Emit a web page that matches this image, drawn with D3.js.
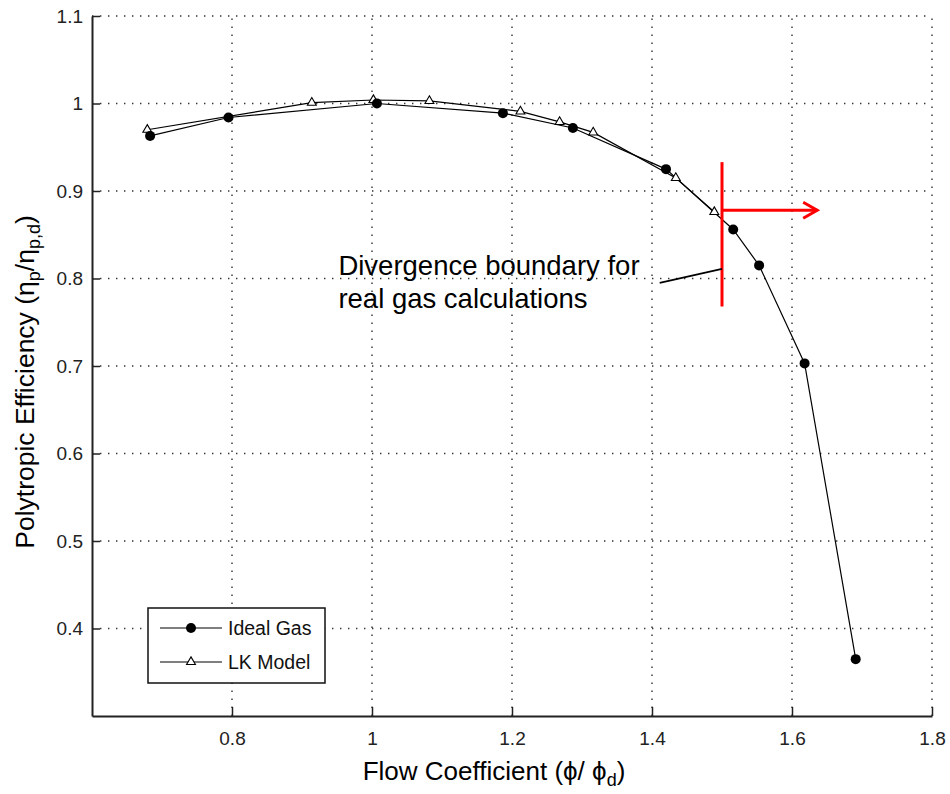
<!DOCTYPE html>
<html>
<head>
<meta charset="utf-8">
<script src="https://cdn.jsdelivr.net/npm/d3@7"></script>
<style>
  body { margin: 0; background: #fff; }
  svg { font-family: "Liberation Sans", Arial, sans-serif; }
</style>
</head>
<body>
<svg id="chart" width="950" height="794"></svg>
<script>
// Ideal gas series
const idealX = [0.683, 0.795, 1.007, 1.187, 1.287, 1.420, 1.516, 1.553, 1.618, 1.691];
const idealY = [0.963, 0.984, 1.000, 0.989, 0.972, 0.925, 0.856, 0.815, 0.703, 0.365];

// LK model series
const lkX = [0.679, 0.914, 1.002, 1.082, 1.212, 1.268, 1.316, 1.434, 1.489];
const lkY = [0.970, 1.001, 1.004, 1.003, 0.991, 0.979, 0.967, 0.915, 0.876];

const xTicks = [0.8, 1, 1.2, 1.4, 1.6, 1.8];
const yTicks = [0.4, 0.5, 0.6, 0.7, 0.8, 0.9, 1, 1.1];

// divergence boundary annotation (data units)
const boundaryX = 1.5;
const boundaryY = [0.768, 0.933];
const arrowY = 0.878;
const arrowEndX = 1.636;
const leaderX = [1.411, 1.5];
const leaderY = [0.795, 0.811];
const noteLines = ["Divergence boundary for", "real gas calculations"];
const noteX = 0.952;
const noteY = [0.804, 0.766];

const svg = d3.select("#chart");
const margin = { left: 92, right: 18, top: 16, bottom: 78 };
const W = 950, H = 794;

const x = d3.scaleLinear().domain([0.6, 1.8]).range([margin.left, W - margin.right]);
const y = d3.scaleLinear().domain([0.3, 1.1]).range([H - margin.bottom, margin.top]);

const ideal = idealX.map((d, i) => ({ x: d, y: idealY[i] }));
const lk = lkX.map((d, i) => ({ x: d, y: lkY[i] }));

// dotted grid
const grid = svg.append("g").attr("stroke", "#333").attr("stroke-width", 1.4)
  .attr("stroke-dasharray", "1.4,6.6");
grid.selectAll(".gx").data(xTicks).enter().append("line")
  .attr("x1", d => x(d)).attr("x2", d => x(d))
  .attr("y1", y(0.3)).attr("y2", y(1.1));
grid.selectAll(".gy").data(yTicks).enter().append("line")
  .attr("x1", x(0.6)).attr("x2", x(1.8))
  .attr("y1", d => y(d)).attr("y2", d => y(d));

const fmt = d => String(+d.toFixed(1));

// axes
const xAxis = svg.append("g")
  .attr("transform", `translate(0,${y(0.3)})`)
  .call(d3.axisBottom(x).tickValues(xTicks).tickFormat(fmt).tickSizeInner(-9).tickSizeOuter(0).tickPadding(16));
const yAxis = svg.append("g")
  .attr("transform", `translate(${x(0.6)},0)`)
  .call(d3.axisLeft(y).tickValues(yTicks).tickFormat(fmt).tickSizeInner(-8).tickSizeOuter(0).tickPadding(9));

[xAxis, yAxis].forEach(a => {
  a.select(".domain").attr("stroke", "#222").attr("stroke-width", 2);
  a.selectAll(".tick line").attr("stroke", "#222").attr("stroke-width", 1.5);
  a.selectAll(".tick text").attr("fill", "#222").style("font-size", "19px")
    .style("font-family", "'Liberation Sans', Arial, sans-serif");
});

// series lines
const line = d3.line().x(d => x(d.x)).y(d => y(d.y));
svg.append("path").datum(lk).attr("d", line)
  .attr("fill", "none").attr("stroke", "#000").attr("stroke-width", 1.2);
svg.append("path").datum(ideal).attr("d", line)
  .attr("fill", "none").attr("stroke", "#000").attr("stroke-width", 1.2);

const tri = d3.symbol().type(d3.symbolTriangle).size(34);

svg.selectAll(".lk").data(lk).enter().append("path")
  .attr("d", tri)
  .attr("transform", d => `translate(${x(d.x)},${y(d.y)})`)
  .attr("fill", "#fff").attr("stroke", "#000").attr("stroke-width", 1.1);

svg.selectAll(".ideal").data(ideal).enter().append("circle")
  .attr("cx", d => x(d.x)).attr("cy", d => y(d.y)).attr("r", 5)
  .attr("fill", "#000");

// annotation
const red = svg.append("g").attr("stroke", "#ff0000").attr("stroke-width", 3).attr("fill", "none");
red.append("line")
  .attr("x1", x(boundaryX)).attr("x2", x(boundaryX))
  .attr("y1", y(boundaryY[0])).attr("y2", y(boundaryY[1]));
red.append("line")
  .attr("x1", x(boundaryX)).attr("x2", x(arrowEndX))
  .attr("y1", y(arrowY)).attr("y2", y(arrowY));
red.append("path")
  .attr("d", `M${x(arrowEndX) - 14},${y(arrowY) - 8}L${x(arrowEndX)},${y(arrowY)}L${x(arrowEndX) - 14},${y(arrowY) + 8}`);

svg.append("line")
  .attr("x1", x(leaderX[0])).attr("x2", x(leaderX[1]))
  .attr("y1", y(leaderY[0])).attr("y2", y(leaderY[1]))
  .attr("stroke", "#000").attr("stroke-width", 1.6);

svg.selectAll(".note").data(noteLines).enter().append("text")
  .attr("x", x(noteX)).attr("y", (d, i) => y(noteY[i]))
  .style("font-size", "27.5px").attr("fill", "#000")
  .text(d => d);

// legend
const lg = svg.append("g");
lg.append("rect").attr("x", 148).attr("y", 608).attr("width", 177).attr("height", 75)
  .attr("fill", "#fff").attr("stroke", "#111").attr("stroke-width", 1.5);
const legendItems = ["Ideal Gas", "LK Model"];
legendItems.forEach((name, i) => {
  const ly = 628 + i * 34;
  lg.append("line").attr("x1", 160).attr("x2", 222).attr("y1", ly).attr("y2", ly)
    .attr("stroke", "#000").attr("stroke-width", 1.2);
  if (i === 0) {
    lg.append("circle").attr("cx", 191).attr("cy", ly).attr("r", 5).attr("fill", "#000");
  } else {
    lg.append("path").attr("d", tri).attr("transform", `translate(191,${ly})`)
      .attr("fill", "#fff").attr("stroke", "#000").attr("stroke-width", 1.1);
  }
  lg.append("text").attr("x", 228).attr("y", ly).attr("dy", "0.35em")
    .style("font-size", "19.5px").attr("fill", "#111").text(name);
});

// axis titles
const xt = svg.append("text").attr("x", 494).attr("y", 780)
  .attr("text-anchor", "middle").style("font-size", "26px").attr("fill", "#000");
xt.append("tspan").text("Flow Coefficient (\u03d5/ \u03d5");
xt.append("tspan").attr("dy", 6).style("font-size", "18px").text("d");
xt.append("tspan").attr("dy", -6).text(")");

const yt = svg.append("text")
  .attr("transform", `translate(34,382) rotate(-90)`)
  .attr("text-anchor", "middle").style("font-size", "26.5px").attr("fill", "#000");
yt.append("tspan").text("Polytropic Efficiency (\u03b7");
yt.append("tspan").attr("dy", 6).style("font-size", "18px").text("p");
yt.append("tspan").attr("dy", -6).text("/\u03b7");
yt.append("tspan").attr("dy", 6).style("font-size", "18px").text("p,d");
yt.append("tspan").attr("dy", -6).text(")");
</script>
</body>
</html>
